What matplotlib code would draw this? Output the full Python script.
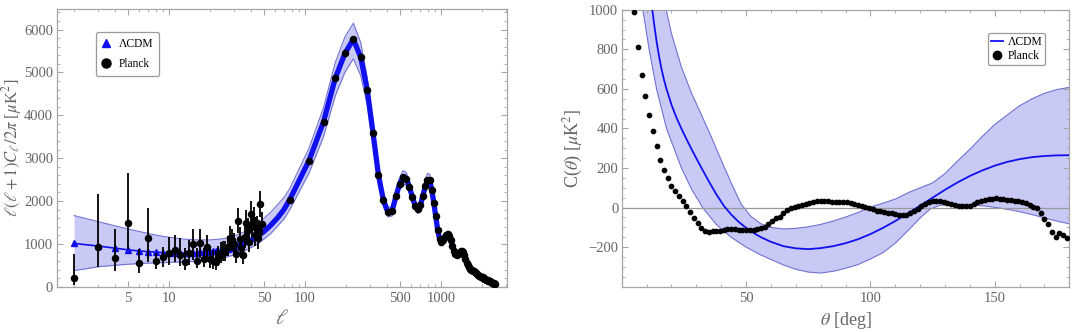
import matplotlib
matplotlib.use("Agg")
import matplotlib.pyplot as plt
from matplotlib.ticker import FixedLocator, FixedFormatter, MultipleLocator, NullFormatter
from matplotlib.lines import Line2D

plt.rcParams["font.family"] = ["Liberation Serif", "DejaVu Serif"]
plt.rcParams["mathtext.fontset"] = "stix"

# ---- left panel: TT power spectrum ------------------------------------
# Planck low-ell points (unbinned) with asymmetric errors
LOW_ELL = [2, 3, 4, 5, 6, 7, 8, 9, 10, 11, 12, 13, 14, 15, 16, 17, 18, 19, 20,
           21, 22, 23, 24, 25, 26, 27, 28, 29, 30, 31, 32, 33, 34, 35, 36, 37,
           38, 39, 40, 41, 42, 43, 44, 45, 46, 47, 48]
LOW_DL = [210, 920, 677, 1487, 546, 1137, 600, 686, 794, 857, 740, 569, 794,
          997, 600, 1013, 647, 920, 647, 600, 584, 700, 780, 817, 803, 934,
          1130, 1080, 1000, 760, 1530, 1120, 900, 740, 1150, 1490, 1320, 1050,
          1690, 1420, 1560, 1200, 1360, 1130, 1280, 1920, 1460]
LOW_ERR_HI = [546, 1236, 663, 1159, 327, 693, 194, 248, 359, 350, 390, 327,
              296, 350, 296, 327, 249, 287, 260, 250, 245, 260, 260, 260, 255,
              260, 280, 270, 260, 240, 300, 270, 250, 235, 270, 300, 285, 260,
              310, 290, 300, 270, 285, 265, 275, 310, 285]
LOW_ERR_LO = [170, 468, 303, 607, 219, 553, 187, 233, 288, 273, 257, 179, 288,
              374, 171, 350, 194, 297, 200, 190, 185, 210, 215, 215, 210, 220,
              240, 235, 225, 205, 270, 240, 220, 205, 240, 265, 255, 230, 280,
              260, 270, 245, 255, 240, 250, 285, 260]

# Planck binned points (delta ell = 30)
BIN_ELL = [77, 107, 137, 167, 197, 227, 257, 287, 317, 347, 377, 407, 437,
           467, 497, 527, 557, 587, 617, 647, 677, 707, 737, 767, 797, 827,
           857, 887, 917, 947, 977, 1007, 1037, 1067, 1097, 1127, 1157, 1187,
           1217, 1247, 1277, 1307, 1337, 1367, 1397, 1427, 1457, 1487, 1517,
           1547, 1577, 1607, 1637, 1667, 1697, 1727, 1757, 1787, 1817, 1847,
           1877, 1907, 1937, 1967, 1997, 2027, 2057, 2087, 2117, 2147, 2177,
           2207, 2237, 2267, 2297, 2327, 2357, 2387, 2417, 2447, 2477, 2507]
BIN_DL = [2024, 2941, 3851, 4864, 5448, 5774, 5354, 4600, 3580, 2610, 2030,
          1745, 1760, 2110, 2400, 2555, 2510, 2330, 2090, 1890, 1815, 1900,
          2120, 2340, 2490, 2480, 2260, 1960, 1640, 1330, 1120, 1055, 1080,
          1150, 1215, 1240, 1190, 1080, 950, 840, 770, 745, 755, 790, 825, 835,
          800, 730, 640, 560, 500, 450, 415, 395, 385, 375, 360, 340, 315, 290,
          268, 252, 242, 236, 230, 220, 205, 190, 176, 165, 155, 146, 138, 130,
          122, 114, 106, 98, 90, 82, 74, 66]

# LCDM best fit: triangles at low ell, then the thick curve
TRI_ELL = [2, 3, 4, 5, 6, 7, 8, 9, 10, 11, 12, 13, 14, 15, 16, 17, 18, 19, 20,
           21, 22, 23, 24, 25, 26, 27, 28, 29, 30]
TRI_DL = [1010, 950, 900, 860, 835, 818, 806, 798, 793, 790, 789, 789, 790,
          792, 795, 799, 804, 810, 817, 825, 833, 842, 852, 862, 873, 885, 897,
          910, 923]
MID_ELL = [33, 36, 40, 45, 50, 56, 63, 70]
MID_DL = [965, 1010, 1080, 1180, 1290, 1435, 1610, 1800]

BAND_ELL = [2, 3, 4, 5, 6, 8, 10, 13, 16, 20, 25, 30, 36, 45, 56, 70,
            77, 107, 137, 167, 197, 227, 257, 287, 317, 347, 377, 407, 437,
            467, 497, 527, 557, 587, 617, 647, 677, 707, 737, 767, 797, 827,
            857, 887, 917, 947, 977, 1007,
            1067, 1127, 1187, 1247, 1307, 1367, 1427, 1487, 1547, 1607,
            1697, 1787, 1877, 1967, 2087, 2207, 2327, 2447, 2507]
BAND_HI = [1660, 1520, 1420, 1345, 1290, 1205, 1153, 1110, 1093, 1091, 1119,
           1180, 1285, 1470, 1740, 2080,
           2280, 3230, 4180, 5230, 5830, 6150, 5700, 4885, 3800, 2770, 2160,
           1850, 1865, 2240, 2545, 2710, 2660, 2470, 2215, 2000, 1925, 2015,
           2245, 2480, 2640, 2630, 2395, 2075, 1735, 1410, 1185, 1110,
           1210, 1305, 1135, 885, 785, 830, 880, 770, 590, 475,
           405, 360, 282, 248, 200, 154, 120, 87, 70]
BAND_LO = [375, 465, 500, 525, 540, 557, 566, 580, 596, 623, 673, 740, 835,
           1000, 1240, 1580,
           1790, 2650, 3505, 4450, 5010, 5320, 4930, 4235, 3295, 2400, 1880,
           1630, 1650, 1980, 2255, 2400, 2360, 2190, 1965, 1780, 1705, 1785,
           1995, 2200, 2340, 2330, 2125, 1845, 1545, 1250, 1055, 1000,
           1090, 1180, 1025, 800, 705, 750, 790, 690, 530, 425,
           365, 320, 254, 224, 180, 138, 108, 77, 62]

# ---- right panel: angular correlation function -------------------------
THETA = [5.0, 6.5, 8.0, 9.5, 11.0, 12.5, 14.0, 15.5, 17.0, 18.5, 20.0, 21.5,
         23.0, 24.5, 26.0, 27.5, 29.0, 30.5, 32.0, 33.5, 35.0, 36.5, 38.0,
         39.5, 41.0, 42.5, 44.0, 45.5, 47.0, 48.5, 50.0, 51.5, 53.0, 54.5,
         56.0, 57.5, 59.0, 60.5, 62.0, 63.5, 65.0, 66.5, 68.0, 69.5, 71.0,
         72.5, 74.0, 75.5, 77.0, 78.5, 80.0, 81.5, 83.0, 84.5, 86.0, 87.5,
         89.0, 90.5, 92.0, 93.5, 95.0, 96.5, 98.0, 99.5, 101.0, 102.5, 104.0,
         105.5, 107.0, 108.5, 110.0, 111.5, 113.0, 114.5, 116.0, 117.5, 119.0,
         120.5, 122.0, 123.5, 125.0, 126.5, 128.0, 129.5, 131.0, 132.5, 134.0,
         135.5, 137.0, 138.5, 140.0, 141.5, 143.0, 144.5, 146.0, 147.5, 149.0,
         150.5, 152.0, 153.5, 155.0, 156.5, 158.0, 159.5, 161.0, 162.5, 164.0,
         165.5, 167.0, 168.5, 170.0, 171.5, 173.0, 174.5, 176.0, 177.5, 179.0]
C_PLANCK = [990, 810, 668, 566, 470, 385, 310, 240, 192, 150, 110, 84, 57, 33,
            8, -20, -52, -78, -103, -118, -121, -120, -118, -116, -113, -110,
            -108, -109, -111, -112, -113, -112, -111, -109, -105, -97, -82,
            -66, -54, -45, -28, -10, -2, 4, 8, 12, 16, 22, 29, 31, 32, 32, 32,
            30, 29, 29, 28, 27, 22, 18, 14, 10, 5, -2, -9, -15, -19, -22, -25,
            -28, -32, -36, -39, -35, -27, -17, -6, 8, 20, 27, 31, 32, 32, 28,
            23, 18, 13, 10, 8, 7, 9, 17, 28, 34, 39, 43, 45, 47, 46, 44, 40,
            36, 34, 31, 27, 22, 14, 5, -2, -25, -60, -83, -122, -148, -128,
            -140, -152]

MODEL_THETA = [0, 3, 6, 9, 12, 13, 14, 15, 16, 17, 18, 20, 22, 24, 26, 28, 30,
               32, 35, 38, 41, 44, 47, 50, 53, 56, 60, 65, 70, 75, 80, 85, 90,
               95, 100, 105, 110, 115, 120, 125, 130, 135, 140, 145, 150, 155,
               160, 165, 170, 175, 180]
MODEL_C = [2700, 2200, 1750, 1370, 1030, 930, 840, 765, 700, 645, 600, 520,
           455, 399, 347, 297, 249, 202, 133, 68, 10, -35, -72, -102, -128,
           -150, -173, -195, -206, -210, -205, -195, -180, -160, -134, -103,
           -68, -30, 10, 50, 90, 127, 160, 188, 212, 231, 245, 255, 261, 264,
           265]

UP_THETA = [0, 5, 10, 14, 17, 20, 24, 28, 32, 36, 40, 44, 48, 52, 56, 60, 65,
            70, 75, 80, 85, 90, 95, 100, 105, 110, 116, 120, 125, 130, 135,
            140, 145, 150, 155, 160, 165, 170, 175, 180]
UP_C = [2900, 2200, 1600, 1250, 1050, 880, 710, 580, 470, 358, 240, 125, 18,
        -45, -82, -100, -108, -105, -97, -85, -68, -48, -25, 3, 22, 43, 80,
        100, 125, 172, 235, 295, 360, 420, 468, 515, 550, 578, 597, 608]
LO_THETA = [0, 5, 8.5, 11, 14, 18, 24, 28, 32.5, 38, 44, 50, 56, 60, 65, 70,
            75, 80, 85, 90, 95, 100, 105, 110, 116, 120, 124, 128, 134, 140,
            146, 152, 158, 164, 170, 175, 180]
LO_C = [1900, 1400, 1000, 800, 600, 400, 200, 95, 0, -85, -150, -200, -240,
        -262, -290, -312, -326, -331, -322, -307, -288, -260, -228, -180, -105,
        -52, -8, 12, 16, 14, 8, -2, -15, -32, -52, -68, -82]

FILL = "#c9c9f5"
EDGE = "#7272d2"
BLUE = "#1010ee"
SPINE = "#a6a6a6"
TXT = "#666666"


def style(ax):
    for sp in ax.spines.values():
        sp.set_color(SPINE)
        sp.set_linewidth(0.9)
    ax.tick_params(which="both", direction="in", top=True, right=True,
                   colors=SPINE, labelcolor=TXT, labelsize=10.5)
    ax.tick_params(which="major", length=4, width=0.8)
    ax.tick_params(which="minor", length=2, width=0.6)
    ax.tick_params(axis="y", which="major", pad=2.5)


fig = plt.figure(figsize=(10.72, 3.32), dpi=100)
ax1 = fig.add_axes([0.0529, 0.1364, 0.4203, 0.8364])
ax2 = fig.add_axes([0.58, 0.1364, 0.4175, 0.834])

# left panel
ax1.fill_between(BAND_ELL, BAND_LO, BAND_HI, color=FILL, lw=0, zorder=1)
ax1.plot(BAND_ELL, BAND_HI, color=EDGE, lw=0.8, zorder=2)
ax1.plot(BAND_ELL, BAND_LO, color=EDGE, lw=0.8, zorder=2)
ax1.plot(TRI_ELL, TRI_DL, color=BLUE, lw=1.2, marker="^", ms=4, zorder=3)
ax1.plot(TRI_ELL[-1:] + MID_ELL + BIN_ELL, TRI_DL[-1:] + MID_DL + BIN_DL,
         color=BLUE, lw=3.8, solid_capstyle="round", zorder=3)
ax1.errorbar(LOW_ELL, LOW_DL, yerr=[LOW_ERR_LO, LOW_ERR_HI], fmt="o",
             color="black", ms=4.4, elinewidth=1.3, capsize=0, zorder=4)
ax1.plot(BIN_ELL, BIN_DL, "o", color="black", ms=4.4, zorder=5)

ax1.set_xscale("log")
ax1.set_xlim(1.49, 3080)
ax1.set_ylim(0, 6480)
ax1.xaxis.set_major_locator(FixedLocator([5, 10, 50, 100, 500, 1000]))
ax1.xaxis.set_major_formatter(FixedFormatter(["5", "10", "50", "100", "500", "1000"]))
ax1.xaxis.set_minor_locator(FixedLocator([2, 3, 4, 6, 7, 8, 9, 20, 30, 40, 60,
                                          70, 80, 90, 200, 300, 400, 600, 700,
                                          800, 900, 2000, 3000]))
ax1.xaxis.set_minor_formatter(NullFormatter())
ax1.yaxis.set_major_locator(MultipleLocator(1000))
ax1.yaxis.set_minor_locator(MultipleLocator(200))
style(ax1)
ax1.set_xlabel(r"$\ell$", fontsize=15, color=TXT)
ax1.xaxis.set_label_coords(0.5, -0.085)
ax1.set_ylabel(r"$\ell(\ell+1)C_\ell/2\pi$ [$\mu$K$^2$]", fontsize=12, color=TXT)
ax1.yaxis.set_label_coords(-0.072, 0.5)

h1 = [Line2D([], [], ls="none", marker="^", color=BLUE, ms=5.5),
      Line2D([], [], ls="none", marker="o", color="black", ms=6.5)]
leg1 = ax1.legend(h1, ["ΛCDM", "Planck"], loc="upper left",
                  bbox_to_anchor=(0.087, 0.918), borderaxespad=0, fontsize=8.3,
                  handlelength=0.8, handletextpad=0.7, labelspacing=0.75,
                  borderpad=0.5, framealpha=1, edgecolor="#9a9a9a", fancybox=True)
leg1.get_frame().set_linewidth(0.9)

# right panel
ax2.fill(UP_THETA + LO_THETA[::-1], UP_C + LO_C[::-1], color=FILL, lw=0, zorder=1)
ax2.plot(UP_THETA, UP_C, color=EDGE, lw=0.8, zorder=2)
ax2.plot(LO_THETA, LO_C, color=EDGE, lw=0.8, zorder=2)
ax2.axhline(0, color="#9a9a9a", lw=0.9, zorder=2)
ax2.plot(MODEL_THETA, MODEL_C, color=BLUE, lw=1.3, zorder=3)
ax2.plot(THETA, C_PLANCK, "o", color="black", ms=3.1, zorder=4)

ax2.set_xlim(0, 180)
ax2.set_ylim(-400, 1000)
ax2.xaxis.set_major_locator(FixedLocator([50, 100, 150]))
ax2.xaxis.set_minor_locator(MultipleLocator(10))
ax2.yaxis.set_major_locator(FixedLocator([-200, 0, 200, 400, 600, 800, 1000]))
ax2.yaxis.set_minor_locator(MultipleLocator(50))
style(ax2)
ax2.set_xlabel(r"$\theta$ [deg]", fontsize=13, color=TXT)
ax2.xaxis.set_label_coords(0.5, -0.085)
ax2.set_ylabel(r"C($\theta$) [$\mu$K$^2$]", fontsize=13, color=TXT)
ax2.yaxis.set_label_coords(-0.082, 0.5)

h2 = [Line2D([], [], color=BLUE, lw=1.3),
      Line2D([], [], ls="none", marker="o", color="black", ms=6)]
leg2 = ax2.legend(h2, ["ΛCDM", "Planck"], loc="upper left",
                  bbox_to_anchor=(0.818, 0.918), borderaxespad=0, fontsize=8.4,
                  handlelength=1.0, handletextpad=0.4, labelspacing=0.2,
                  borderpad=0.28, framealpha=1, edgecolor="#9a9a9a", fancybox=True)
leg2.get_frame().set_linewidth(0.9)

fig.savefig("out.png", dpi=100)
